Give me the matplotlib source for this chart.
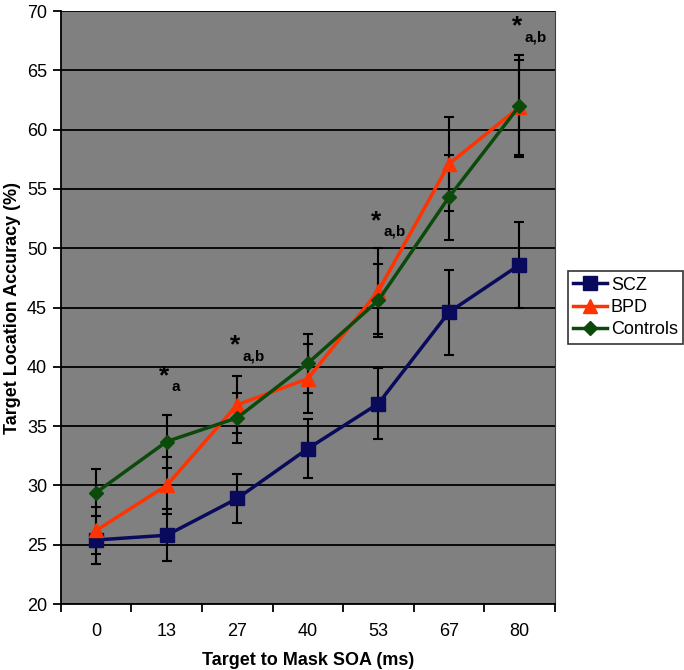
import numpy as np
import matplotlib.pyplot as plt

plt.rcParams['font.family'] = ['Liberation Sans', 'DejaVu Sans']

soa = ['0', '13', '27', '40', '53', '67', '80']
scz = [25.4, 25.8, 28.9, 33.1, 36.9, 44.6, 48.6]
scz_err = [2.0, 2.2, 2.1, 2.5, 3.0, 3.6, 3.65]
bpd = [26.2, 30.0, 36.8, 39.0, 46.4, 57.1, 61.9]
bpd_err = [2.0, 2.4, 2.4, 2.9, 3.6, 4.0, 4.0]
controls = [29.4, 33.7, 35.7, 40.3, 45.6, 54.3, 62.0]
controls_err = [2.0, 2.25, 2.1, 2.5, 3.1, 3.6, 4.3]
sig_idx = [1, 2, 4, 6]
sig_labels = ['a', 'a,b', 'a,b', 'a,b']
sig_y = [39.2, 41.8, 52.3, 68.7]

x = np.arange(len(soa))

fig = plt.figure(figsize=(6.84, 6.70), dpi=100)
ax = fig.add_axes([0.089, 0.0985, 0.722, 0.885])
ax.set_facecolor('#808080')

series = [
    ('SCZ', scz, scz_err, '#0a0a5c', 's', 10.5),
    ('BPD', bpd, bpd_err, '#ff3300', '^', 10),
    ('Controls', controls, controls_err, '#0b4a0b', 'D', 7),
]
for name, vals, err, col, mk, ms in series:
    ax.errorbar(x, vals, yerr=err, fmt='none', ecolor='black', elinewidth=1.5,
                capsize=3.5, capthick=1.5, zorder=3)
for name, vals, err, col, mk, ms in series:
    ax.plot(x, vals, color=col, lw=2.5, marker=mk, markersize=ms,
            markerfacecolor=col, markeredgecolor=col, label=name, zorder=4)

for i, lab, yv in zip(sig_idx, sig_labels, sig_y):
    ax.text(x[i] - 0.03, yv, '*', fontsize=19, fontweight='bold',
            ha='center', va='center')
    ax.text(x[i] + 0.07, yv - 0.9, lab, fontsize=11, fontweight='bold',
            ha='left', va='center')

ax.set_xlim(-0.5, len(soa) - 0.5)
ax.set_ylim(20, 70)
ax.set_yticks(np.arange(20, 71, 5))
ax.yaxis.grid(True, color='black', lw=1.3)
ax.set_axisbelow(True)

ax.set_xticks(x)
ax.set_xticklabels(soa)
ax.set_xticks(np.arange(-0.5, len(soa), 1), minor=True)
ax.tick_params(axis='x', which='major', length=0, pad=14, labelsize=13)
ax.tick_params(axis='x', which='minor', length=6, width=1.3, direction='out')
ax.tick_params(axis='y', length=6, width=1.3, labelsize=13, pad=4)

ax.spines['top'].set_visible(False)
ax.spines['right'].set_color('#404040')
ax.spines['left'].set_linewidth(1.3)
ax.spines['bottom'].set_linewidth(1.3)

ax.set_xlabel('Target to Mask SOA (ms)', fontsize=13, fontweight='bold', labelpad=8)
ax.set_ylabel('Target Location Accuracy (%)', fontsize=13, fontweight='bold', labelpad=4)

leg = ax.legend(loc='center left', bbox_to_anchor=(1.026, 0.5), fontsize=13,
                frameon=True, fancybox=False, edgecolor='black',
                handlelength=1.9, borderpad=0.3, labelspacing=0.3,
                handletextpad=0.2, borderaxespad=0)
leg.get_frame().set_linewidth(1.2)

fig.savefig('out.png', dpi=100)
